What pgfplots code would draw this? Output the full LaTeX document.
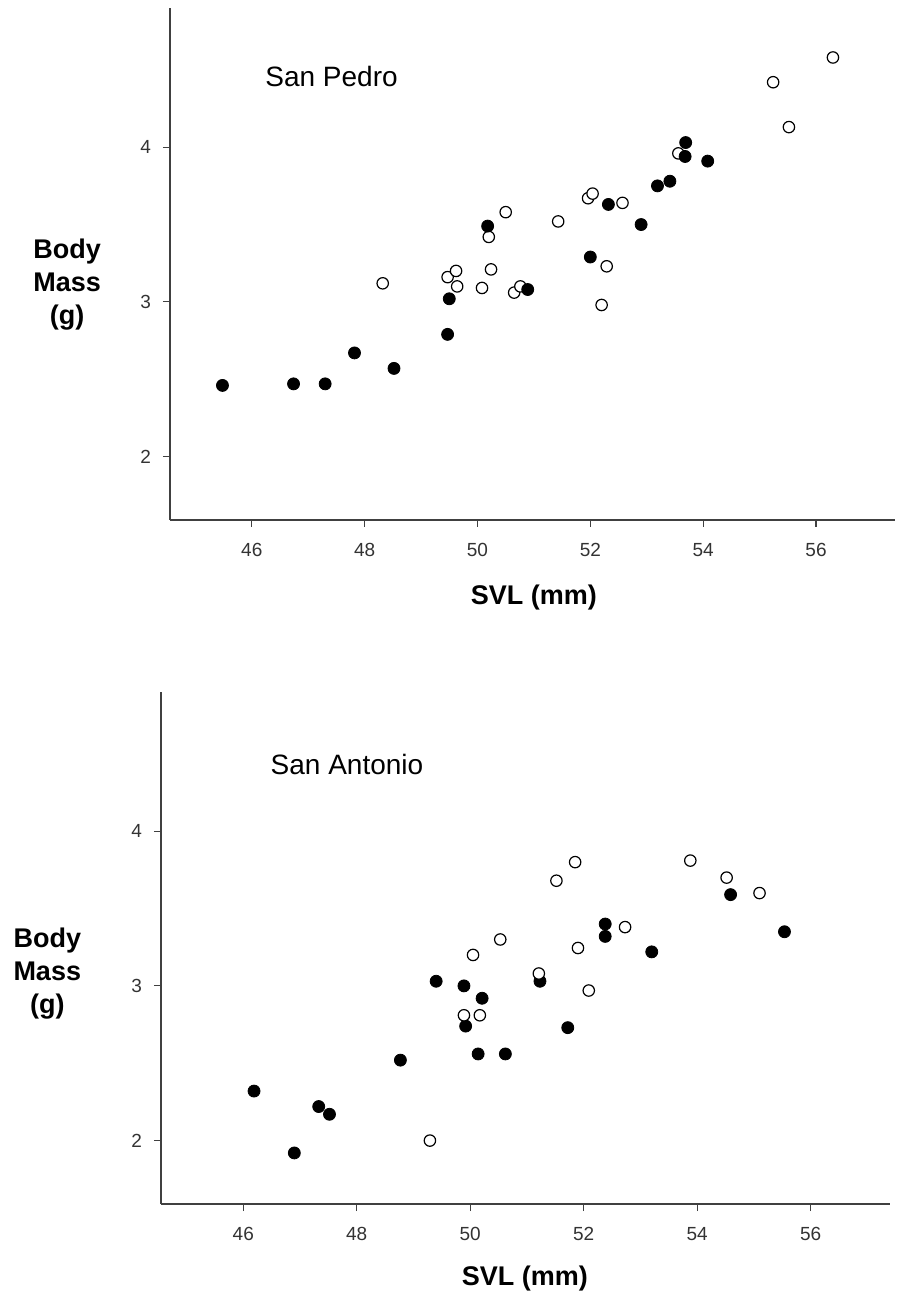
\documentclass[border=0pt]{standalone}
\usepackage{fontspec}
\setmainfont{Liberation Sans}
\usepackage{pgfplots}
\pgfplotsset{compat=1.18}

\pgfplotstableread{
x y
45.48 2.46
46.74 2.47
47.30 2.47
47.82 2.67
48.52 2.57
49.47 2.79
49.50 3.02
50.18 3.49
50.89 3.08
52.00 3.29
52.32 3.63
52.90 3.50
53.19 3.75
53.41 3.78
53.69 4.03
53.68 3.94
54.08 3.91
}\pedrofilled

\pgfplotstableread{
x y
48.32 3.12
49.47 3.16
49.62 3.20
49.64 3.10
50.08 3.09
50.24 3.21
50.20 3.42
50.50 3.58
50.65 3.06
50.76 3.10
51.43 3.52
51.96 3.67
52.04 3.70
52.29 3.23
52.20 2.98
52.57 3.64
53.56 3.96
55.24 4.42
55.52 4.13
56.30 4.58
}\pedroopen

\pgfplotstableread{
x y
46.19 2.32
46.90 1.92
47.33 2.22
47.52 2.17
48.77 2.52
49.40 3.03
49.89 3.00
49.92 2.74
50.14 2.56
50.21 2.92
50.62 2.56
51.23 3.03
51.72 2.73
52.38 3.40
52.38 3.32
53.20 3.22
54.59 3.59
55.54 3.35
}\antoniofilled

\pgfplotstableread{
x y
49.29 2.00
49.89 2.81
50.17 2.81
50.05 3.20
50.53 3.30
51.21 3.08
51.52 3.68
51.85 3.80
51.90 3.245
52.09 2.97
52.73 3.38
53.88 3.81
54.52 3.70
55.10 3.60
}\antonioopen

\pgfplotsset{
  lizard/.style={
    scale only axis,
    axis lines=left,
    axis line style={-, draw=black!75, line width=0.65pt},
    tick style={draw=black!75, line width=0.6pt},
    tick align=outside,
    major tick length=3.5pt,
    xmin=44.55, xmax=57.4,
    ymin=1.59, ymax=4.9,
    xtick={46,48,50,52,54,56},
    ytick={2,3,4},
    /pgf/number format/assume math mode=true,
    ticklabel style={font=\fontsize{9.5}{11}\selectfont, text=black!80},
    xticklabel style={yshift=-4.5pt},
    yticklabel style={xshift=-2.5pt},
    xlabel={SVL (mm)},
    xlabel style={font=\fontsize{13.5}{16}\selectfont\bfseries, anchor=center},
    ylabel style={font=\fontsize{13.5}{16.5}\selectfont\bfseries, rotate=-90, anchor=center, align=center},
    clip=false,
  },
  filledpt/.style={only marks, mark=*, mark size=3pt, mark options={fill=black, draw=black}},
  openpt/.style={only marks, mark=*, mark size=2.85pt, mark options={fill=white, draw=black, line width=0.6pt}},
}

\begin{document}
\begin{tikzpicture}
\useasboundingbox (0,0) rectangle (448.5pt,647.5pt);
% Top: San Pedro
\begin{axis}[lizard,
  at={(85pt,387.5pt)}, anchor=south west,
  width=362.5pt, height=256pt,
  xlabel style={at={(axis description cs:0.502,-0.152)}},
  ylabel={Body\\Mass\\(g)},
  ylabel style={at={(axis description cs:-0.142,0.459)}},
]
\addplot[openpt] table {\pedroopen};
\addplot[filledpt] table {\pedrofilled};
\node[anchor=west, inner sep=0pt, font=\fontsize{14}{16}\selectfont] at (rel axis cs:0.131,0.867) {San Pedro};
\end{axis}
% Bottom: San Antonio
\begin{axis}[lizard,
  at={(80.5pt,45.5pt)}, anchor=south west,
  width=364.5pt, height=256pt,
  xlabel style={at={(axis description cs:0.499,-0.145)}},
  ylabel={Body\\Mass\\(g)},
  ylabel style={at={(axis description cs:-0.156,0.451)}},
]
\addplot[filledpt] table {\antoniofilled};
\addplot[openpt] table {\antonioopen};
\node[anchor=west, inner sep=0pt, font=\fontsize{14}{16}\selectfont] at (rel axis cs:0.150,0.859) {San Antonio};
\end{axis}
\end{tikzpicture}
\end{document}
